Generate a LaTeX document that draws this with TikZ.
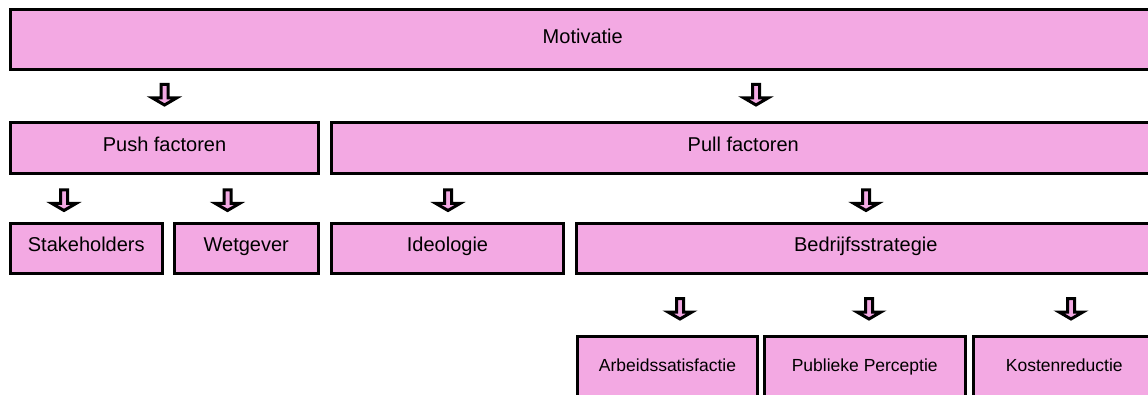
\documentclass[tikz,border=0pt]{standalone}
\usepackage{fontspec}
\setmainfont{Liberation Sans}
\definecolor{boxpink}{RGB}{243,169,227}
\begin{document}
\begin{tikzpicture}[x=1pt,y=-1pt,
  box/.style={draw=black, line width=3pt, fill=boxpink, inner sep=0pt,
    text height=0.67em, text depth=0.05em, font=\fontsize{20}{24}\selectfont},
  smallbox/.style={box, font=\fontsize{17.5}{21}\selectfont},
  blockarrow/.style={draw=black, line width=3pt, fill=boxpink, line join=miter},
  downarrow/.pic={\path[blockarrow] (-3.5,1.5) -- (3.5,1.5) -- (3.5,15)
      -- (12,15) -- (0,22) -- (-12,15) -- (-3.5,15) -- cycle;}
]
\useasboundingbox (0,0) rectangle (1148,395);

% level 1
\node[box, minimum width=1144.5pt, minimum height=60pt] (motiv) at (582.75,40) {Motivatie};

% level 2
\node[box, minimum width=308pt, minimum height=50.5pt] (push) at (164.5,148.25) {Push factoren};
\node[box, minimum width=823.5pt, minimum height=50.5pt] (pull) at (743.25,148.25) {Pull factoren};

% level 3
\node[box, minimum width=151.5pt, minimum height=50pt] (stake) at (86.25,248.5) {Stakeholders};
\node[box, minimum width=144.5pt, minimum height=50pt] (wet) at (246.25,248.5) {Wetgever};
\node[box, minimum width=232pt, minimum height=50pt] (ideo) at (447.5,248.5) {Ideologie};
\node[box, minimum width=578.5pt, minimum height=50pt] (strat) at (865.75,248.5) {Bedrijfsstrategie};

% level 4
\node[smallbox, minimum width=180pt, minimum height=63.5pt] (arbeid) at (667.5,368.25) {Arbeidssatisfactie};
\node[smallbox, minimum width=200.5pt, minimum height=63.5pt] (publiek) at (864.75,368.25) {Publieke Perceptie};
\node[smallbox, minimum width=181.5pt, minimum height=63.5pt] (kosten) at (1064.25,368.25) {Kostenreductie};

% block arrows between the levels
\pic at (164.5,83) {downarrow};
\pic at (756,83) {downarrow};
\pic at (64,188.5) {downarrow};
\pic at (227.5,188.5) {downarrow};
\pic at (448,188.5) {downarrow};
\pic at (866,188.5) {downarrow};
\pic at (680,297) {downarrow};
\pic at (869,297) {downarrow};
\pic at (1071,297) {downarrow};
\end{tikzpicture}
\end{document}
